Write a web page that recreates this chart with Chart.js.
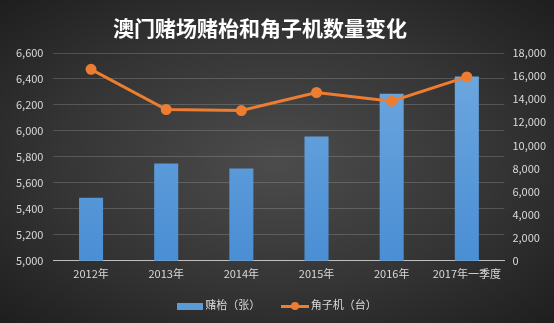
<!DOCTYPE html>
<html>
<head>
<meta charset="utf-8">
<script src="https://cdn.jsdelivr.net/npm/chart.js@4.4.1/dist/chart.umd.min.js"></script>
<style>
	html, body { margin: 0; padding: 0; }
	#wrap {
		position: relative;
		width: 554px;
		height: 323px;
		background: radial-gradient(ellipse at 50% 50%, #4c4c4c 0%, #353535 55%, #1e1e1e 100%);
		font-family: "Microsoft YaHei", "Noto Sans CJK SC", sans-serif;
	}
	#title {
		position: absolute;
		left: 0; width: 520px; top: 12px;
		text-align: center;
		color: #ffffff;
		font-size: 21px;
		font-weight: bold;
		line-height: 30px;
	}
	#legend {
		position: absolute;
		left: 0; right: 0; top: 294px;
		text-align: center;
		color: #d9d9d9;
		font-size: 11px;
	}
	#legend span.item { display: inline-block; margin: 0 9px; vertical-align: middle; }
	.swatch-bar { display: inline-block; width: 26px; height: 7px; background: #5b9bd5; vertical-align: middle; margin-right: 2px; }
	.swatch-line { display: inline-block; position: relative; width: 28px; height: 8px; vertical-align: middle; margin-right: 2px; }
	.swatch-line:before { content: ""; position: absolute; left: 0; right: 0; top: 3px; height: 3px; background: #ed7d31; }
	.swatch-line:after { content: ""; position: absolute; left: 10px; top: 0; width: 8px; height: 8px; border-radius: 50%; background: #ed7d31; }
</style>
</head>
<body>
<div id="wrap">
	<canvas id="mycanvas" width="554" height="323"></canvas>
	<div id="title">澳门赌场赌枱和角子机数量变化</div>
	<div id="legend">
		<span class="item"><span class="swatch-bar"></span>赌枱（张）</span>
		<span class="item"><span class="swatch-line"></span>角子机（台）</span>
	</div>
</div>
<script>
var years = ["2012年", "2013年", "2014年", "2015年", "2016年", "2017年一季度"];
// 赌枱 (张) - left axis
var tables = [5485, 5750, 5711, 5957, 6287, 6420];
// 角子机 (台) - right axis
var slots = [16585, 13106, 13018, 14578, 13826, 15931];
var leftTicks = [5000, 6600, 200];
var rightTicks = [0, 18000, 2000];

var tickColor = "#d9d9d9";
var tickFont = { family: "'Microsoft YaHei', 'Noto Sans CJK SC', sans-serif", size: 11 };

var ctx = document.getElementById("mycanvas").getContext("2d");

var barGrad = ctx.createLinearGradient(0, 60, 0, 260);
barGrad.addColorStop(0, "#6ea8df");
barGrad.addColorStop(1, "#4a8ed4");

var myChart = new Chart(ctx, {
	type: 'bar',
	data: {
		labels: years,
		datasets: [
			{
				type: 'line',
				label: "角子机（台）",
				data: slots,
				yAxisID: 'y1',
				borderColor: "#ed7d31",
				backgroundColor: "#ed7d31",
				borderWidth: 3,
				pointRadius: 4,
				pointBackgroundColor: "#ed7d31",
				pointBorderColor: "#ed7d31",
				tension: 0,
				order: 0
			},
			{
				type: 'bar',
				label: "赌枱（张）",
				data: tables,
				yAxisID: 'y',
				backgroundColor: barGrad,
				barPercentage: 0.32,
				categoryPercentage: 1,
				order: 1
			}
		]
	},
	options: {
		responsive: false,
		animation: false,
		layout: { padding: { left: 6, right: 0, top: 53, bottom: 37 } },
		plugins: {
			legend: { display: false },
			tooltip: { enabled: false },
			title: { display: false }
		},
		scales: {
			x: {
				grid: { display: false, drawTicks: false },
				border: { display: true, color: "#bfbfbf", width: 1 },
				ticks: { color: tickColor, font: tickFont, padding: 6, maxRotation: 0 }
			},
			y: {
				position: 'left',
				min: leftTicks[0],
				max: leftTicks[1],
				grid: { color: "rgba(255,255,255,0.17)", drawTicks: false },
				border: { display: false },
				ticks: {
					stepSize: leftTicks[2],
					color: tickColor,
					font: tickFont,
					padding: 10,
					callback: function(v) { return v.toLocaleString('en-US'); }
				}
			},
			y1: {
				position: 'right',
				min: rightTicks[0],
				max: rightTicks[1],
				grid: { display: false, drawTicks: false },
				border: { display: false },
				ticks: {
					stepSize: rightTicks[2],
					color: tickColor,
					font: tickFont,
					padding: 8,
					callback: function(v) { return v.toLocaleString('en-US'); }
				}
			}
		}
	}
});
</script>
</body>
</html>
